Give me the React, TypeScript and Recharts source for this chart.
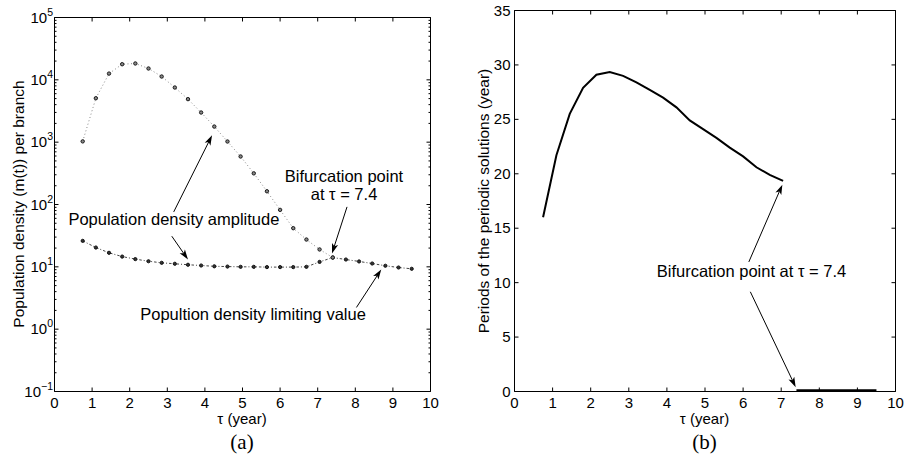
import { LineChart, Line, XAxis, YAxis, ReferenceLine, ReferenceDot, ReferenceArea } from 'recharts'

// tau values (years) shared by both panels
const tau = [0.75, 1.1, 1.45, 1.8, 2.15, 2.5, 2.85, 3.2, 3.55, 3.9, 4.25, 4.6, 4.95, 5.3, 5.65, 6.0, 6.35, 6.7, 7.05, 7.4, 7.75, 8.1, 8.45, 8.8, 9.15, 9.5]

// panel (a): population density per branch (log scale)
const amplitude = [1030, 5070, 12600, 17800, 18300, 15200, 11300, 7530, 4900, 2990, 1780, 1025, 589, 316, 163, 82, 41.7, 27.4, 19, 14.1]
const limitingValue = [26.1, 20.4, 16.8, 14.6, 13.3, 12.3, 11.6, 11.2, 10.8, 10.5, 10.2, 10.1, 10.0, 10.0, 9.9, 9.9, 9.9, 10.0, 12.0, 14.1, 13.1, 12.2, 11.3, 10.4, 9.75, 9.3]

// panel (b): periods of the periodic solutions
const periods = [16.0, 21.7, 25.5, 27.9, 29.1, 29.35, 29.0, 28.4, 27.7, 27.0, 26.1, 24.9, 24.1, 23.3, 22.4, 21.6, 20.6, 19.9, 19.35]
const periodsAfterBifurcation = [0.1, 0.1, 0.1, 0.1, 0.1, 0.1, 0.1]

const xTicks = [0, 1, 2, 3, 4, 5, 6, 7, 8, 9, 10]
const logTicks = [0.1, 1, 10, 100, 1000, 10000, 100000]
const periodTicks = [0, 5, 10, 15, 20, 25, 30, 35]

const minorLogTicks = logTicks.slice(0, -1).flatMap((d) => [2, 3, 4, 5, 6, 7, 8, 9].map((m) => m * d))

const leftRows = tau.map((t, i) => ({
  tau: t,
  amp: i < amplitude.length ? amplitude[i] : null,
  lim: limitingValue[i],
}))

const rightRows = tau.map((t, i) => ({
  tau: t,
  period: i < periods.length ? periods[i] : null,
  zero: i >= periods.length ? periodsAfterBifurcation[i - periods.length] : null,
}))

const FONT = '"Liberation Sans", Arial, Helvetica, sans-serif'
const TICK = 4

function BottomLabel({ x, y, payload }: any) {
  return (
    <text x={x} y={y + 16} textAnchor="middle" fontSize={15} fontFamily={FONT} fill="#000">
      {payload.value}
    </text>
  )
}

function LogLabel({ x, y, payload }: any) {
  const e = Math.round(Math.log10(payload.value))
  return (
    <text x={x - 1.5} y={y + 5} textAnchor="end" fontSize={15} fontFamily={FONT} fill="#000">
      <tspan>10</tspan>
      <tspan dy={-7} fontSize={10.5}>{e < 0 ? '\u2212' + Math.abs(e) : e}</tspan>
    </text>
  )
}

function LinLabel({ x, y, payload }: any) {
  return (
    <text x={x - 4} y={y + 5} textAnchor="end" fontSize={15} fontFamily={FONT} fill="#000">
      {payload.value}
    </text>
  )
}

// small inward tick mark drawn from a point on the frame
const tickMark = (dx: number, dy: number) => (p: any) => (
  <line x1={p.cx} y1={p.cy} x2={p.cx + dx} y2={p.cy + dy} stroke="#000" strokeWidth={1} />
)

function Arrow(p: any) {
  const { x1, y1, x2, y2 } = p
  const a = Math.atan2(y2 - y1, x2 - x1)
  const c = Math.cos(a)
  const s = Math.sin(a)
  const len = 10
  const w = 3.2
  const bx = x2 - len * c
  const by = y2 - len * s
  const mx = x2 - (len - 2.5) * c
  const my = y2 - (len - 2.5) * s
  return (
    <g>
      <line x1={x1} y1={y1} x2={mx} y2={my} stroke="#000" strokeWidth={1} />
      <polygon
        points={`${x2},${y2} ${bx - s * w},${by + c * w} ${mx},${my} ${bx + s * w},${by - c * w}`}
        fill="#000"
      />
    </g>
  )
}

const note = (text: string, anchor: 'start' | 'middle' | 'end' = 'middle') => (p: any) => (
  <text x={p.cx} y={p.cy} textAnchor={anchor} fontSize={16.5} fontFamily={FONT} fill="#000">
    {text}
  </text>
)

export default function App() {
  return (
    <div style={{ position: 'absolute', left: 0, top: 0, width: 906, height: 463, background: '#fff' }}>
      <div style={{ position: 'absolute', left: 0, top: 0 }}>
        <LineChart width={445} height={463} data={leftRows} margin={{ top: 17.5, right: 14.5, bottom: 41.5, left: 0.5 }}>
          <XAxis
            dataKey="tau"
            type="number"
            domain={[0, 10]}
            ticks={xTicks}
            interval={0}
            height={30}
            tickSize={0}
            tickMargin={0}
            tickLine={false}
            axisLine={false}
            tick={<BottomLabel />}
            allowDataOverflow
          />
          <YAxis
            type="number"
            scale="log"
            domain={[0.1, 100000]}
            ticks={logTicks}
            interval={0}
            width={54}
            tickSize={0}
            tickMargin={0}
            tickLine={false}
            axisLine={false}
            tick={<LogLabel />}
            allowDataOverflow
          />
          <ReferenceArea x1={0} x2={10} y1={0.1} y2={100000} fill="none" stroke="#000" strokeWidth={1} ifOverflow="visible" />
          {xTicks.map((t) => (
            <ReferenceDot key={'xb' + t} x={t} y={0.1} ifOverflow="visible" shape={tickMark(0, -TICK)} />
          ))}
          {xTicks.map((t) => (
            <ReferenceDot key={'xt' + t} x={t} y={100000} ifOverflow="visible" shape={tickMark(0, TICK)} />
          ))}
          {logTicks.map((v) => (
            <ReferenceDot key={'yl' + v} x={0} y={v} ifOverflow="visible" shape={tickMark(TICK, 0)} />
          ))}
          {logTicks.map((v) => (
            <ReferenceDot key={'yr' + v} x={10} y={v} ifOverflow="visible" shape={tickMark(-TICK, 0)} />
          ))}
          {minorLogTicks.map((v) => (
            <ReferenceDot key={'ml' + v} x={0} y={v} ifOverflow="visible" shape={tickMark(2, 0)} />
          ))}
          {minorLogTicks.map((v) => (
            <ReferenceDot key={'mr' + v} x={10} y={v} ifOverflow="visible" shape={tickMark(-2, 0)} />
          ))}
          <Line
            dataKey="lim"
            type="linear"
            stroke="#444"
            strokeWidth={1}
            strokeDasharray="2.5 2 1 2"
            dot={{ r: 1.6, stroke: '#111', fill: '#333', strokeWidth: 1, strokeDasharray: '0' }}
            isAnimationActive={false}
          />
          <Line
            dataKey="amp"
            type="linear"
            stroke="#888"
            strokeWidth={1}
            strokeDasharray="1 2.5"
            dot={{ r: 1.7, stroke: '#1a1a1a', fill: '#888', strokeWidth: 1, strokeDasharray: '0' }}
            connectNulls={false}
            isAnimationActive={false}
          />
          <ReferenceLine segment={[{ x: 3.17, y: 76 }, { x: 4.19, y: 1290 }]} shape={Arrow} />
          <ReferenceLine segment={[{ x: 3.12, y: 31 }, { x: 3.55, y: 13.1 }]} shape={Arrow} />
          <ReferenceLine segment={[{ x: 7.78, y: 91.6 }, { x: 7.38, y: 16.4 }]} shape={Arrow} />
          <ReferenceLine segment={[{ x: 8.03, y: 2.23 }, { x: 8.69, y: 9.08 }]} shape={Arrow} />
          <ReferenceDot x={0.37} y={46.6} shape={note('Population density amplitude', 'start')} />
          <ReferenceDot x={7.7} y={230} shape={note('Bifurcation point')} />
          <ReferenceDot x={7.7} y={119} shape={note('at \u03c4 = 7.4')} />
          <ReferenceDot x={5.28} y={1.4} shape={note('Popultion density limiting value')} />
        </LineChart>
      </div>

      <div style={{ position: 'absolute', left: 460, top: 0 }}>
        <LineChart width={446} height={463} data={rightRows} margin={{ top: 10.5, right: 10.5, bottom: 41.5, left: 0.5 }}>
          <XAxis
            dataKey="tau"
            type="number"
            domain={[0, 10]}
            ticks={xTicks}
            interval={0}
            height={30}
            tickSize={0}
            tickMargin={0}
            tickLine={false}
            axisLine={false}
            tick={<BottomLabel />}
            allowDataOverflow
          />
          <YAxis
            type="number"
            domain={[0, 35]}
            ticks={periodTicks}
            interval={0}
            width={54}
            tickSize={0}
            tickMargin={0}
            tickLine={false}
            axisLine={false}
            tick={<LinLabel />}
            allowDataOverflow
          />
          <ReferenceArea x1={0} x2={10} y1={0} y2={35} fill="none" stroke="#000" strokeWidth={1} ifOverflow="visible" />
          {xTicks.map((t) => (
            <ReferenceDot key={'xb' + t} x={t} y={0} ifOverflow="visible" shape={tickMark(0, -TICK)} />
          ))}
          {xTicks.map((t) => (
            <ReferenceDot key={'xt' + t} x={t} y={35} ifOverflow="visible" shape={tickMark(0, TICK)} />
          ))}
          {periodTicks.map((v) => (
            <ReferenceDot key={'yl' + v} x={0} y={v} ifOverflow="visible" shape={tickMark(TICK, 0)} />
          ))}
          {periodTicks.map((v) => (
            <ReferenceDot key={'yr' + v} x={10} y={v} ifOverflow="visible" shape={tickMark(-TICK, 0)} />
          ))}
          <Line dataKey="period" type="linear" stroke="#000" strokeWidth={2} dot={false} connectNulls={false} isAnimationActive={false} />
          <Line dataKey="zero" type="linear" stroke="#000" strokeWidth={2.5} dot={false} connectNulls={false} isAnimationActive={false} />
          <ReferenceLine segment={[{ x: 6.15, y: 11.9 }, { x: 7.03, y: 19.0 }]} shape={Arrow} />
          <ReferenceLine segment={[{ x: 6.19, y: 9.16 }, { x: 7.38, y: 0.4 }]} shape={Arrow} />
          <ReferenceDot x={6.22} y={10.5} shape={note('Bifurcation point at \u03c4 = 7.4')} />
        </LineChart>
      </div>

      <svg width={906} height={463} style={{ position: 'absolute', left: 0, top: 0, pointerEvents: 'none' }}>
        <text x={24} y={204} transform="rotate(-90 24 204)" textAnchor="middle" fontSize={15.5} fontFamily={FONT} fill="#000">
          Population density (m(t)) per branch
        </text>
        <text x={489} y={201} transform="rotate(-90 489 201)" textAnchor="middle" fontSize={15.5} fontFamily={FONT} fill="#000">
          Periods of the periodic solutions (year)
        </text>
        <text x={242} y={424} textAnchor="middle" fontSize={15} fontFamily={FONT} fill="#000">
          {'\u03c4 (year)'}
        </text>
        <text x={704.5} y={424} textAnchor="middle" fontSize={15} fontFamily={FONT} fill="#000">
          {'\u03c4 (year)'}
        </text>
        <text x={242} y={449} textAnchor="middle" fontSize={21} fontFamily='"Liberation Serif", "DejaVu Serif", serif' fill="#000">
          (a)
        </text>
        <text x={704.5} y={449} textAnchor="middle" fontSize={21} fontFamily='"Liberation Serif", "DejaVu Serif", serif' fill="#000">
          (b)
        </text>
      </svg>
    </div>
  )
}
